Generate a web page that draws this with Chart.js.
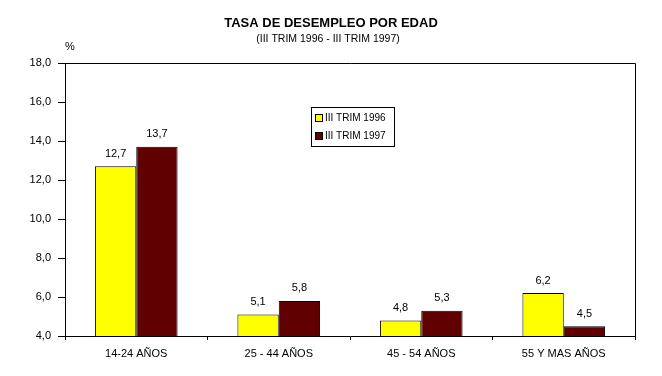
<!DOCTYPE html>
<html>
<head>
<meta charset="utf-8">
<script src="https://cdn.jsdelivr.net/npm/chart.js@4.4.1/dist/chart.umd.min.js"></script>
<style>
  html, body { margin: 0; padding: 0; background: #ffffff; }
  #wrap { width: 662px; height: 376px; }
</style>
</head>
<body>
<div id="wrap"><canvas id="desempleoChart" width="662" height="376"></canvas></div>
<script>
// Datos del gráfico
const grupos = ['14-24 AÑOS', '25 - 44 AÑOS', '45 - 54 AÑOS', '55 Y MAS AÑOS'];
const trim1996 = [12.7, 5.1, 4.8, 6.2];
const trim1997 = [13.7, 5.8, 5.3, 4.5];
const series = ['III TRIM 1996', 'III TRIM 1997'];
const titulo = 'TASA DE DESEMPLEO POR EDAD';
const subtitulo = '(III TRIM 1996 - III TRIM 1997)';

const fuente = '"Liberation Sans", Arial, sans-serif';

function fmt(v) {
    return v.toFixed(1).replace('.', ',');
}

// Títulos, borde del área, etiquetas de valores y leyenda
const decoracion = {
    id: 'decoracion',
    afterDraw(chart) {
        const ctx = chart.ctx;
        const area = chart.chartArea;
        ctx.save();
        ctx.fillStyle = '#000';
        ctx.textAlign = 'center';
        ctx.textBaseline = 'middle';
        ctx.font = 'bold 13px ' + fuente;
        ctx.fillText(titulo, 331, 23);
        ctx.font = '10.5px ' + fuente;
        ctx.fillText(subtitulo, 328, 39);
        ctx.font = '11px ' + fuente;
        ctx.fillText('%', 70, 47);

        // borde superior y derecho
        ctx.strokeStyle = '#000';
        ctx.lineWidth = 1;
        ctx.beginPath();
        ctx.moveTo(area.left, area.top + 0.5);
        ctx.lineTo(area.right + 0.5, area.top + 0.5);
        ctx.lineTo(area.right + 0.5, area.bottom);
        ctx.stroke();

        // valores sobre las barras
        ctx.font = '11px ' + fuente;
        ctx.textBaseline = 'bottom';
        chart.data.datasets.forEach((ds, i) => {
            chart.getDatasetMeta(i).data.forEach((bar, j) => {
                ctx.fillText(fmt(ds.data[j]), bar.x, bar.y - 7);
            });
        });

        // leyenda
        const lx = 311, ly = 107, lw = 83, lh = 39;
        ctx.fillStyle = '#fff';
        ctx.fillRect(lx, ly, lw, lh);
        ctx.strokeRect(lx + 0.5, ly + 0.5, lw, lh);
        ctx.textAlign = 'left';
        ctx.textBaseline = 'middle';
        ctx.font = '10px ' + fuente;
        chart.data.datasets.forEach((ds, i) => {
            const y = ly + 11 + i * 18;
            ctx.fillStyle = ds.backgroundColor;
            ctx.fillRect(lx + 4, y - 4, 8, 8);
            ctx.strokeStyle = '#000';
            ctx.strokeRect(lx + 4.5, y - 3.5, 7, 7);
            ctx.fillStyle = '#000';
            ctx.fillText(ds.label, lx + 14, y + 0.5);
        });
        ctx.restore();
    }
};

const ctx = document.getElementById('desempleoChart').getContext('2d');

new Chart(ctx, {
    type: 'bar',
    data: {
        labels: grupos,
        datasets: [{
            label: series[0],
            data: trim1996,
            backgroundColor: '#ffff00',
            borderColor: '#000',
            borderWidth: 1,
            borderSkipped: false
        }, {
            label: series[1],
            data: trim1997,
            backgroundColor: '#600000',
            borderColor: '#000',
            borderWidth: 1,
            borderSkipped: false
        }]
    },
    options: {
        responsive: false,
        animation: false,
        layout: {
            padding: { top: 63, right: 27, left: 0, bottom: 0 }
        },
        datasets: {
            bar: {
                categoryPercentage: 0.58,
                barPercentage: 1.0
            }
        },
        plugins: {
            legend: { display: false },
            title: { display: false },
            tooltip: { enabled: false }
        },
        scales: {
            x: {
                offset: true,
                grid: {
                    display: true,
                    offset: true,
                    drawOnChartArea: false,
                    drawTicks: true,
                    tickLength: 4,
                    color: '#000'
                },
                border: { display: true, color: '#000' },
                ticks: {
                    color: '#000',
                    padding: 7,
                    font: { family: fuente, size: 11 }
                },
                afterFit(scale) { scale.height = 40; }
            },
            y: {
                min: 4,
                max: 18,
                ticks: {
                    stepSize: 2,
                    color: '#000',
                    padding: 7,
                    font: { family: fuente, size: 11 },
                    callback: (v) => fmt(v)
                },
                grid: {
                    drawOnChartArea: false,
                    drawTicks: true,
                    tickLength: 7,
                    color: '#000'
                },
                border: { display: true, color: '#000' },
                afterFit(scale) { scale.width = 65; }
            }
        }
    },
    plugins: [decoracion]
});
</script>
</body>
</html>
